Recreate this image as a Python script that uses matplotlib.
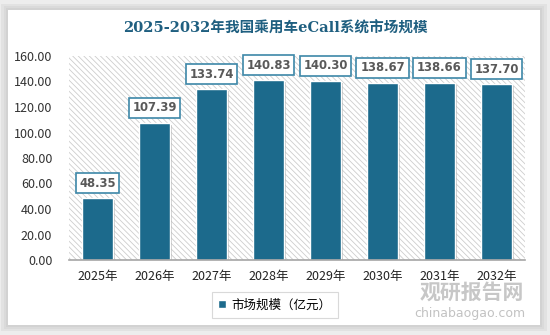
import matplotlib.pyplot as plt
import matplotlib.patheffects as pe
from matplotlib.patches import Rectangle

plt.rcParams['font.family'] = ['Noto Sans CJK SC', 'DejaVu Sans']
plt.rcParams['hatch.linewidth'] = 0.6

# data
years = ['2025年', '2026年', '2027年', '2028年', '2029年', '2030年', '2031年', '2032年']
market_size = [48.35, 107.39, 133.74, 140.83, 140.30, 138.67, 138.66, 137.70]
yticks = [0, 20, 40, 60, 80, 100, 120, 140, 160]

bar_color = '#1c6a8c'

fig = plt.figure(figsize=(5.5, 3.35), dpi=100)
fig.patch.set_facecolor('#ededed')

# card with soft shadow
for i, c in enumerate(['#e2e2e2', '#dadada', '#d2d2d2']):
    d = (3 - i) * 0.004
    fig.patches.append(Rectangle((8 / 550 - d, 10 / 335 - d * 1.6), 532 / 550 + 2 * d,
                                 315 / 335 + 2 * d * 1.6, transform=fig.transFigure,
                                 facecolor=c, edgecolor='none', zorder=-5))
fig.patches.append(Rectangle((8 / 550, 10 / 335), 532 / 550, 315 / 335,
                             transform=fig.transFigure, facecolor='white',
                             edgecolor='none', zorder=-4))

fig.text(0.5, 1 - 29 / 335, '2025-2032年我国乘用车eCall系统市场规模', ha='center', va='center',
         fontsize=10.5, fontweight='bold', color='#1f5f80',
         family=['DejaVu Serif', 'Noto Sans CJK SC'])

ax = fig.add_axes([69 / 550, 1 - 260 / 335, 456 / 550, 204 / 335])
ax.set_zorder(1)
ax.set_facecolor('none')
ax.add_patch(Rectangle((0, 0), 1, 1, transform=ax.transAxes, facecolor='white',
                       edgecolor='#cdcdcd', hatch='\\' * 6, linewidth=0, zorder=0))

x = range(len(years))
bars = ax.bar(x, market_size, width=0.55, color=bar_color, edgecolor='white',
              linewidth=1, zorder=2, label='市场规模（亿元）')
for b in bars:
    b.set_path_effects([pe.SimplePatchShadow(offset=(1.2, -1.2), shadow_rgbFace='#999999', alpha=0.5),
                        pe.Normal()])

for xi, v in zip(x, market_size):
    ax.annotate(f'{v:.2f}', (xi, v), xytext=(0, 11), textcoords='offset points',
                ha='center', va='center', fontsize=8.4, fontweight='bold', color='#595959',
                family=['DejaVu Sans'],
                bbox=dict(boxstyle='square,pad=0.32', facecolor='white', edgecolor='#3d87a8',
                          linewidth=1.2), zorder=4)

ax.set_xlim(-0.5, len(years) - 0.5)
ax.set_ylim(0, 160)
ax.set_yticks(yticks)
ax.set_yticklabels([f'{t:.2f}' for t in yticks], fontsize=9, color='#333333')
ax.set_xticks(list(x))
ax.set_xticklabels(years, fontsize=9, color='#222222')
ax.tick_params(axis='y', length=0, pad=12)
ax.tick_params(axis='x', length=0, pad=7)
for s in ['top', 'right', 'left']:
    ax.spines[s].set_visible(False)
ax.spines['bottom'].set_color('#a6a6a6')
ax.spines['bottom'].set_linewidth(1.2)
ax.spines['bottom'].set_zorder(3)

leg = fig.legend(handles=[bars], labels=['市场规模（亿元）'], loc='center',
                 bbox_to_anchor=(275 / 550, 1 - 305 / 335), fontsize=9, frameon=True,
                 fancybox=False, edgecolor='#d0d0d0', handlelength=0.6, handleheight=0.6,
                 borderpad=0.5, handletextpad=0.5, borderaxespad=0)
leg.get_frame().set_linewidth(0.8)
leg.legend_handles[0].set_path_effects([])

# watermark
fig.text(472 / 550, 1 - 292 / 335, '观研报告网', ha='center', va='center', fontsize=15,
         fontweight='bold', color='#bdbdbd', alpha=0.85, zorder=5)
fig.text(470 / 550, 1 - 314 / 335, 'chinabaogao.com', ha='center', va='center', fontsize=9,
         color='#b8b8b8', alpha=0.85, family=['DejaVu Sans'], zorder=5)

fig.savefig('out.png', dpi=100)
